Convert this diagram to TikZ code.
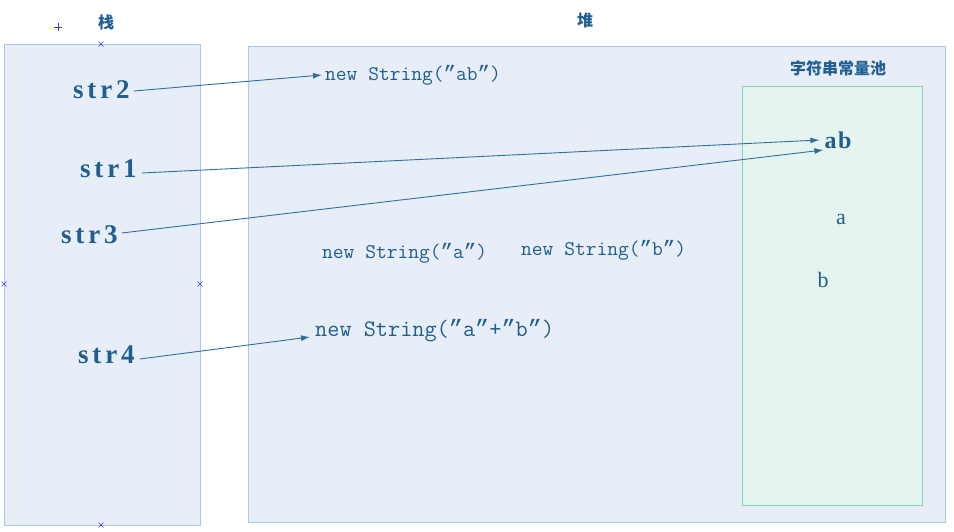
\documentclass[tikz,border=0pt]{standalone}
\usepackage{fontspec}
\usetikzlibrary{arrows.meta,calc}
\newfontfamily\cjkfont{Noto Sans CJK SC}
\newfontfamily\lblfont{Liberation Serif}[LetterSpace=14]
\newfontfamily\abfont{Liberation Serif}[LetterSpace=6]
\newfontfamily\qtfont{Liberation Mono}
\newcommand{\qq}{{\qtfont ”}}
\definecolor{txtblue}{HTML}{1F5F8F}
\definecolor{arrblue}{HTML}{2F6F9F}
\definecolor{boxfill}{HTML}{E8EEF8}
\definecolor{boxline}{HTML}{A8C8EC}
\definecolor{poolfill}{HTML}{E6F4F0}
\definecolor{poolline}{HTML}{80D4B8}
\definecolor{markblue}{HTML}{3A3AF0}
\begin{document}
\begin{tikzpicture}[x=1pt,y=-1pt,
  region/.style={draw=boxline,fill=boxfill,line width=1pt,inner sep=0pt},
  poolbox/.style={draw=poolline,fill=poolfill,line width=1pt,inner sep=0pt},
  title/.style={text=txtblue,font=\cjkfont\bfseries\fontsize{16pt}{18pt}\selectfont,inner sep=1pt},
  varlbl/.style={text=txtblue,font=\lblfont\bfseries\fontsize{27pt}{29pt}\selectfont,inner sep=2pt,anchor=west},
  objlbl/.style={text=txtblue,font=\ttfamily\fontsize{20.9pt}{22pt}\selectfont,inner sep=3pt,anchor=west},
  poollbl/.style={text=txtblue,font=\abfont\fontsize{22pt}{24pt}\selectfont,inner sep=2pt},
  ptr/.style={draw=arrblue,line width=0.9pt,-{Latex[length=9pt,width=6pt]}},
  xmark/.style={draw=markblue,line width=0.6pt}
]
\useasboundingbox (0,0) rectangle (954,531);
% regions
\node[region,minimum width=196pt,minimum height=481pt] (stack) at (102,284.5) {};
\node[region,minimum width=697pt,minimum height=476pt] (heap) at (596.5,284) {};
\node[poolbox,minimum width=180pt,minimum height=419pt] (pool) at (832,295.5) {};
% titles
\node[title] (tstack) at (106,22) {栈};
\node[title] (theap) at (585,20) {堆};
\node[title] (tpool) at (838,68) {字符串常量池};
% selection marks
\draw[xmark] (54,27) -- (62,27) (58,23) -- (58,31);
\foreach \px/\py in {101/44,4/284,200/284,101/525}{
  \draw[xmark] (\px-2.5,\py-2.5) -- (\px+2.5,\py+2.5) (\px-2.5,\py+2.5) -- (\px+2.5,\py-2.5);
}
% stack variables
\node[varlbl] (s2) at (71,90) {str2};
\node[varlbl] (s1) at (78,169) {str1};
\node[varlbl] (s3) at (59,235) {str3};
\node[varlbl] (s4) at (76,355) {str4};
% heap objects
\node[objlbl] (oab) at (322,75) {new String(\qq ab\qq)};
\node[objlbl] (oa) at (319,253) {new String(\qq a\qq)};
\node[objlbl] (ob) at (518,250) {new String(\qq b\qq)};
\node[objlbl,font=\ttfamily\fontsize{23.6pt}{25pt}\selectfont] (oapb) at (312,331) {new String(\qq a\qq+\qq b\qq)};
% pool contents
\node[poollbl,font=\abfont\bfseries\fontsize{24pt}{26pt}\selectfont] (ab) at (838,140) {ab};
\node[poollbl] (pa) at (841,219) {a};
\node[poollbl] (pb) at (823,280) {b};
% pointers
\draw[ptr] ($(s2.east)+(2,1)$) -- (oab.west);
\draw[ptr] ($(s1.east)+(3,4)$) -- ($(ab.west)+(-3,0)$);
\draw[ptr] ($(s3.east)+(2,-2)$) -- ($(ab.west)+(1,10)$);
\draw[ptr] ($(s4.east)+(3,4)$) -- ($(oapb.west)+(-2,6)$);
\end{tikzpicture}
\end{document}
